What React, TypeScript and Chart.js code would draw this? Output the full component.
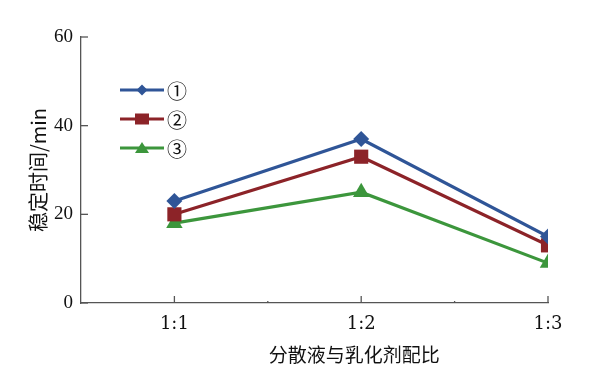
import React, { useEffect, useRef } from "react";
import { Chart, registerables } from "chart.js";
Chart.register(...registerables);

const categories = ["1:1", "1:2", "1:3"];
const series1 = [23, 37, 15];
const series2 = [20, 33, 13];
const series3 = [18, 25, 9];
const seriesNames = ["①", "②", "③"];
const yTickValues = [0, 20, 40, 60];
const xTitle = "分散液与乳化剂配比";
const yTitle = "稳定时间/min";

const BLUE = "#2f5597";
const RED = "#8c2328";
const GREEN = "#3c963c";
const AXIS = "#555555";

const decorPlugin = {
  id: "decor",
  afterDraw(chart: any) {
    const ctx = chart.ctx;
    const xs = chart.scales.x;
    const ys = chart.scales.y;
    const area = chart.chartArea;
    ctx.save();
    ctx.strokeStyle = AXIS;
    ctx.lineWidth = 1.3;
    xs.ticks.forEach((t: any) => {
      const px = xs.getPixelForValue(t.value);
      ctx.beginPath();
      ctx.moveTo(px, area.bottom);
      ctx.lineTo(px, area.bottom - 7);
      ctx.stroke();
    });
    for (let i = 1; i < categories.length; i++) {
      const px = xs.getPixelForValue(i + 0.5);
      ctx.beginPath();
      ctx.moveTo(px, area.bottom);
      ctx.lineTo(px, area.bottom - 2);
      ctx.stroke();
    }
    ys.ticks.forEach((t: any) => {
      const py = ys.getPixelForValue(t.value);
      ctx.beginPath();
      ctx.moveTo(area.left, py);
      ctx.lineTo(area.left + 7, py);
      ctx.stroke();
    });
    // legend
    const ds = chart.data.datasets;
    const lx0 = area.left + 39;
    const lx1 = area.left + 83;
    ds.forEach((d: any, i: number) => {
      const ly = area.top + 53 + i * 29;
      ctx.strokeStyle = d.borderColor;
      ctx.lineWidth = 3.2;
      ctx.beginPath();
      ctx.moveTo(lx0, ly);
      ctx.lineTo(lx1, ly);
      ctx.stroke();
      const mx = (lx0 + lx1) / 2;
      ctx.fillStyle = d.backgroundColor;
      ctx.beginPath();
      if (d.pointStyle === "rectRot") {
        const r = 5.5;
        ctx.moveTo(mx, ly - r);
        ctx.lineTo(mx + r, ly);
        ctx.lineTo(mx, ly + r);
        ctx.lineTo(mx - r, ly);
        ctx.closePath();
      } else if (d.pointStyle === "rect") {
        ctx.rect(mx - 7, ly - 5.5, 14, 11);
      } else {
        ctx.moveTo(mx, ly - 6);
        ctx.lineTo(mx + 7, ly + 5);
        ctx.lineTo(mx - 7, ly + 5);
        ctx.closePath();
      }
      ctx.fill();
      ctx.fillStyle = "#111";
      ctx.font = "20px 'Noto Sans CJK SC'";
      ctx.textAlign = "left";
      ctx.textBaseline = "middle";
      ctx.fillText(d.label, lx1 + 3, ly + 1);
    });
    // titles
    ctx.fillStyle = "#111";
    ctx.font = "19px 'Noto Sans CJK SC'";
    ctx.textAlign = "center";
    ctx.textBaseline = "middle";
    ctx.fillText(xTitle, xs.getPixelForValue(2) - 7, area.bottom + 52);
    ctx.save();
    ctx.translate(area.left - 43, (area.top + area.bottom) / 2);
    ctx.rotate(-Math.PI / 2);
    ctx.font = "20px 'Noto Sans CJK SC'";
    ctx.fillText(yTitle, 0, 0);
    ctx.restore();
    ctx.restore();
  },
};

function App() {
  const ref = useRef<HTMLCanvasElement | null>(null);
  useEffect(() => {
    document.body.style.margin = "0";
    const mk = (arr: number[]) => arr.map((y, i) => ({ x: i + 1, y }));
    const chart = new Chart(ref.current as HTMLCanvasElement, {
      type: "line",
      data: {
        datasets: [
          {
            label: seriesNames[0],
            data: mk(series1),
            borderColor: BLUE,
            backgroundColor: BLUE,
            borderWidth: 3.2,
            pointStyle: "rectRot",
            pointRadius: 8,
            pointBorderWidth: 0,
          },
          {
            label: seriesNames[1],
            data: mk(series2),
            borderColor: RED,
            backgroundColor: RED,
            borderWidth: 3.2,
            pointStyle: "rect",
            pointRadius: 10,
            pointBorderWidth: 0,
          },
          {
            label: seriesNames[2],
            data: mk(series3),
            borderColor: GREEN,
            backgroundColor: GREEN,
            borderWidth: 3.2,
            pointStyle: "triangle",
            pointRadius: 9.5,
            pointBorderWidth: 0,
          },
        ],
      },
      options: {
        animation: false,
        responsive: false,
        layout: { padding: { left: 0, top: 37, right: 49, bottom: 0 } },
        plugins: { legend: { display: false }, tooltip: { enabled: false } },
        scales: {
          x: {
            type: "linear",
            min: 0.5,
            max: 3,
            afterBuildTicks: (s: any) => {
              s.ticks = categories.map((_, i) => ({ value: i + 1 }));
            },
            afterFit: (s: any) => {
              s.height = 74;
            },
            ticks: {
              callback: (v: any) => categories[Math.round(v) - 1] ?? "",
              font: { family: "'DejaVu Serif'", size: 18 },
              color: "#111",
              padding: 11,
              maxRotation: 0,
            },
            grid: { drawOnChartArea: false, drawTicks: false },
            border: { color: AXIS, width: 1.3 },
          },
          y: {
            min: 0,
            max: 60,
            afterBuildTicks: (s: any) => {
              s.ticks = yTickValues.map((v) => ({ value: v }));
            },
            afterFit: (s: any) => {
              s.width = 81;
            },
            ticks: {
              font: { family: "'Liberation Serif'", size: 19 },
              color: "#111",
              padding: 8,
            },
            grid: { drawOnChartArea: false, drawTicks: false },
            border: { color: AXIS, width: 1.3 },
          },
        },
      },
      plugins: [decorPlugin],
    } as any);
    return () => chart.destroy();
  }, []);
  return (
    <div style={{ width: 597, height: 377, background: "#fff" }}>
      <canvas ref={ref} width={597} height={377} />
    </div>
  );
}

export default App;
